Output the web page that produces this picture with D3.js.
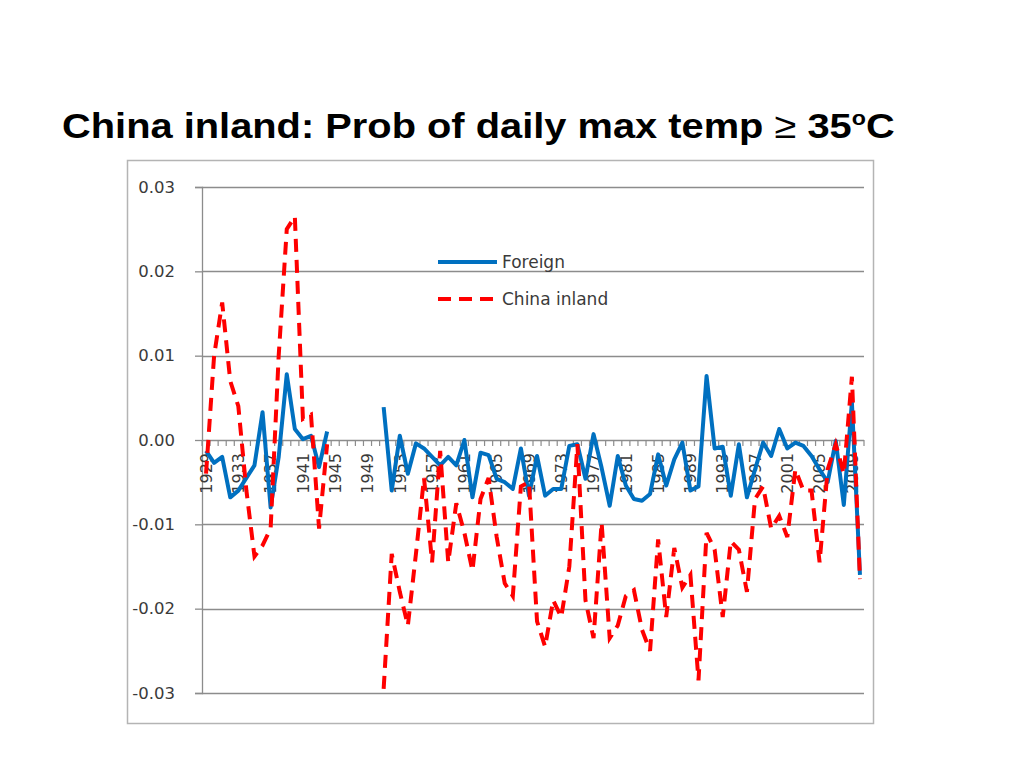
<!DOCTYPE html>
<html>
<head>
<meta charset="utf-8">
<script src="https://cdn.jsdelivr.net/npm/d3@7"></script>
<style>
  html, body { margin: 0; padding: 0; background: #ffffff; }
  svg { display: block; }
</style>
</head>
<body>
<svg id="chart" width="1024" height="768"></svg>
<script>
// ---------------- DATA ----------------
const years = [
  1929,1930,1931,1932,1933,1934,1935,1936,1937,1938,1939,1940,1941,1942,1943,1944,
  1945,1946,1947,1948,1949,1950,
  1951,1952,1953,1954,1955,1956,1957,1958,1959,1960,
  1961,1962,1963,1964,1965,1966,1967,1968,1969,1970,
  1971,1972,1973,1974,1975,1976,1977,1978,1979,1980,
  1981,1982,1983,1984,1985,1986,1987,1988,1989,1990,
  1991,1992,1993,1994,1995,1996,1997,1998,1999,2000,
  2001,2002,2003,2004,2005,2006,2007,2008,2009,2010
];

const foreign = [
  -0.0013,-0.0027,-0.002,-0.0068,-0.006,-0.0045,-0.003,0.0033,-0.008,-0.002,0.0078,0.0013,0.0001,0.0005,-0.0032,0.001,
  null,null,null,null,null,null,
  0.0039,-0.006,0.0005,-0.004,-0.0004,-0.001,-0.002,-0.003,-0.002,-0.003,
  0.0,-0.0068,-0.0015,-0.0018,-0.0046,-0.005,-0.0058,-0.001,-0.0066,-0.0019,
  -0.0066,-0.0058,-0.0058,-0.0007,-0.0005,-0.0046,0.0007,-0.0033,-0.0078,-0.0019,
  -0.0054,-0.007,-0.0072,-0.0064,-0.0017,-0.0054,-0.0023,-0.0003,-0.006,-0.0055,
  0.0076,-0.001,-0.0008,-0.0066,-0.0005,-0.0068,-0.0035,-0.0003,-0.0019,0.0013,
  -0.001,-0.0003,-0.0007,-0.0019,-0.0035,-0.005,-0.0001,-0.0077,0.0045,-0.016
];

const chinaInland = [
  -0.004,0.010,0.0163,0.007,0.004,-0.006,-0.0138,-0.0125,-0.0105,0.010,0.025,0.0265,0.0025,0.003,-0.0105,-0.0005,
  null,null,null,null,null,null,
  -0.0295,-0.0135,-0.018,-0.022,-0.0135,-0.0045,-0.0145,-0.0013,-0.0145,-0.0075,
  -0.011,-0.0155,-0.007,-0.0045,-0.0115,-0.017,-0.0185,-0.0055,-0.005,-0.0215,
  -0.0245,-0.019,-0.021,-0.015,-0.0005,-0.019,-0.0235,-0.0098,-0.0235,-0.022,
  -0.0185,-0.0178,-0.0225,-0.025,-0.0118,-0.021,-0.0128,-0.0175,-0.016,-0.0285,
  -0.011,-0.013,-0.021,-0.012,-0.013,-0.018,-0.007,-0.0055,-0.0105,-0.009,
  -0.0115,-0.0035,-0.006,-0.006,-0.0145,-0.0035,-0.0005,-0.004,0.0075,-0.0165
];

const xTickLabels = [1929,1933,1937,1941,1945,1949,1953,1957,1961,1965,1969,1973,1977,1981,1985,1989,1993,1997,2001,2005,2009];
const yTicks = [-0.03,-0.02,-0.01,0.00,0.01,0.02,0.03];
const yTickLabels = ["-0.03","-0.02","-0.01","0.00","0.01","0.02","0.03"];
const seriesNames = ["Foreign","China inland"];
const titleText = "China inland: Prob of daily max temp ";

// ---------------- LAYOUT ----------------
const svg = d3.select("#chart");
const plot = { left: 202, right: 864, top: 187, bottom: 693 };
const textColor = "#3a3a3a";
const gridColor = "#8c8c8c";
const blue = "#0070C0";
const red = "#FF0000";

// Chart frame
svg.append("rect")
  .attr("x", 127.5).attr("y", 160.5).attr("width", 746).attr("height", 563)
  .attr("fill", "#ffffff").attr("stroke", "#b4b4b4").attr("stroke-width", 1.5);

// Scales
const x = d3.scaleBand().domain(years).range([plot.left, plot.right]).paddingInner(0).paddingOuter(0);
const y = d3.scaleLinear().domain([-0.03, 0.03]).range([plot.bottom, plot.top]);
const cx = d => x(d) + x.bandwidth() / 2;

// Gridlines + y axis
const yAxis = d3.axisLeft(y).tickValues(yTicks)
  .tickFormat((d, i) => yTickLabels[i])
  .tickSize(7).tickPadding(20);
const yg = svg.append("g").attr("transform", `translate(${plot.left},0)`).call(yAxis);
yg.select(".domain").attr("stroke", gridColor).attr("stroke-width", 1.3);
yg.selectAll(".tick line").attr("stroke", gridColor).attr("stroke-width", 1.3);
yg.selectAll(".tick text")
  .attr("font-family", "DejaVu Sans").attr("font-size", 16.5).attr("fill", textColor);

svg.append("g").selectAll("line").data(yTicks).join("line")
  .attr("x1", plot.left).attr("x2", plot.right)
  .attr("y1", d => Math.round(y(d)) + 0.5).attr("y2", d => Math.round(y(d)) + 0.5)
  .attr("stroke", gridColor).attr("stroke-width", 1.3);

// x axis on zero line with minor ticks at every category boundary
const xAxis = d3.axisBottom(x)
  .tickValues(xTickLabels)
  .tickSize(0).tickPadding(0);
const xg = svg.append("g").attr("transform", `translate(0,${y(0)})`).call(xAxis);
xg.select(".domain").remove();
xg.selectAll(".tick text")
  .attr("font-family", "DejaVu Sans").attr("font-size", 16).attr("fill", textColor)
  .attr("text-anchor", "end")
  .attr("transform", "rotate(-90)")
  .attr("x", -13).attr("y", 0).attr("dy", "0.36em");

svg.append("g").selectAll("line").data(years.concat(["end"])).join("line")
  .attr("x1", (d, i) => plot.left + i * x.bandwidth())
  .attr("x2", (d, i) => plot.left + i * x.bandwidth())
  .attr("y1", y(0)).attr("y2", y(0) + 6)
  .attr("stroke", gridColor).attr("stroke-width", 1.2);

// Lines
const lineGen = d3.line()
  .defined(d => d.v !== null)
  .x(d => cx(d.year))
  .y(d => y(d.v));

const blueData = years.map((yr, i) => ({ year: yr, v: foreign[i] }));
const redData = years.map((yr, i) => ({ year: yr, v: chinaInland[i] }));

svg.append("path").datum(blueData)
  .attr("d", lineGen)
  .attr("fill", "none").attr("stroke", blue).attr("stroke-width", 4)
  .attr("stroke-linejoin", "round");

svg.append("path").datum(redData)
  .attr("d", lineGen)
  .attr("fill", "none").attr("stroke", red).attr("stroke-width", 4)
  .attr("stroke-dasharray", "13,8");

// Legend
const legend = svg.append("g");
const legendItems = [
  { name: seriesNames[0], color: blue, dash: null, yPos: 262 },
  { name: seriesNames[1], color: red, dash: "13,8", yPos: 299 }
];
legendItems.forEach(it => {
  legend.append("line")
    .attr("x1", 438).attr("x2", 497).attr("y1", it.yPos).attr("y2", it.yPos)
    .attr("stroke", it.color).attr("stroke-width", 4)
    .attr("stroke-dasharray", it.dash);
  legend.append("text")
    .attr("x", 502).attr("y", it.yPos).attr("dy", "0.35em")
    .attr("font-family", "DejaVu Sans").attr("font-size", 17).attr("fill", textColor)
    .text(it.name);
});

// Title
const title = svg.append("text")
  .attr("x", 62).attr("y", 138)
  .attr("font-family", "Liberation Sans, Arial, sans-serif")
  .attr("font-size", 36).attr("font-weight", "bold").attr("fill", "#000");
title.append("tspan").text(titleText);
title.append("tspan").attr("font-weight", "normal").text("\u2265");
title.append("tspan").text(" 35");
title.append("tspan").attr("font-size", 21).attr("dy", -13).text("o");
title.append("tspan").attr("dy", 13).text("C");
const tw = title.node().getComputedTextLength();
const targetW = 833;
const s = targetW / tw;
title.attr("transform", `translate(62,0) scale(${s},1) translate(-62,0)`);
</script>
</body>
</html>
